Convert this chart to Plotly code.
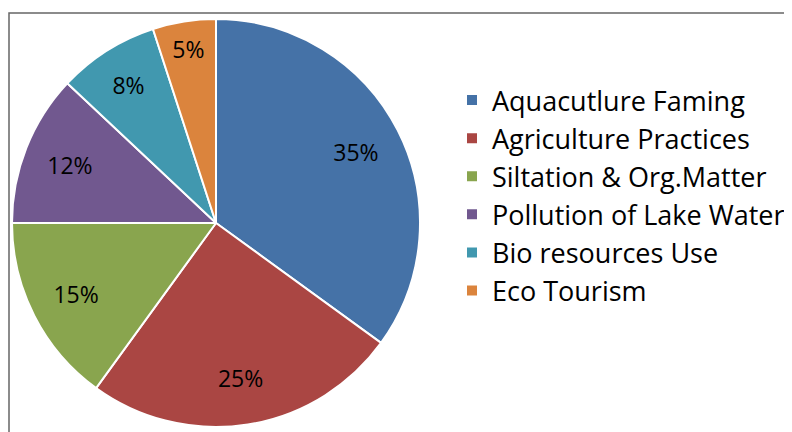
import plotly.graph_objects as go

labels = ["Aquacutlure Faming", "Agriculture Practices", "Siltation & Org.Matter",
          "Pollution of Lake Waters", "Bio resources Use", "Eco Tourism"]
values = [35, 25, 15, 12, 8, 5]
colors = ["#4572A7", "#AA4643", "#89A54E", "#71588F", "#4198AF", "#DB843D"]

W, H = 792, 432
OFF = 8  # page body margin
dom = dict(x=[(12 - OFF) / W, (420 - OFF) / W],
           y=[(H - 427 + OFF) / H, (H - 19 + OFF) / H])

fig = go.Figure()
# coloured slices + legend
fig.add_trace(go.Pie(
    labels=labels, values=values, sort=False, direction="clockwise", rotation=0,
    marker=dict(colors=colors, line=dict(color="white", width=2)),
    textinfo="none", domain=dom, hoverinfo="label+percent",
))
# transparent ring used only to place the percentage labels further out
fig.add_trace(go.Pie(
    labels=labels, values=values, sort=False, direction="clockwise", rotation=0,
    hole=0.54, showlegend=False,
    marker=dict(colors=["rgba(0,0,0,0)"] * len(values), line=dict(width=0)),
    textinfo="percent", textposition="inside", insidetextorientation="horizontal",
    textfont=dict(family="Open Sans, sans-serif", size=23, color="black"),
    domain=dom, hoverinfo="skip",
))

fig.update_layout(
    width=W, height=H, margin=dict(l=0, r=0, t=0, b=0, autoexpand=False),
    paper_bgcolor="white", plot_bgcolor="white",
    uniformtext=dict(minsize=23, mode="show"),
    showlegend=True,
    legend=dict(x=(452 - OFF) / W, y=1 - (76 - OFF) / H, xanchor="left", yanchor="top",
                font=dict(family="Open Sans, sans-serif", size=27, color="black"),
                itemwidth=30, tracegroupgap=0, bgcolor="rgba(0,0,0,0)"),
    shapes=[dict(type="rect", xref="paper", yref="paper",
                 x0=(9 - OFF) / W, x1=1.05, y0=-0.05, y1=1 - (13 - OFF) / H,
                 line=dict(color="#666666", width=1.5), layer="below")],
)

fig.write_html("out.html")
